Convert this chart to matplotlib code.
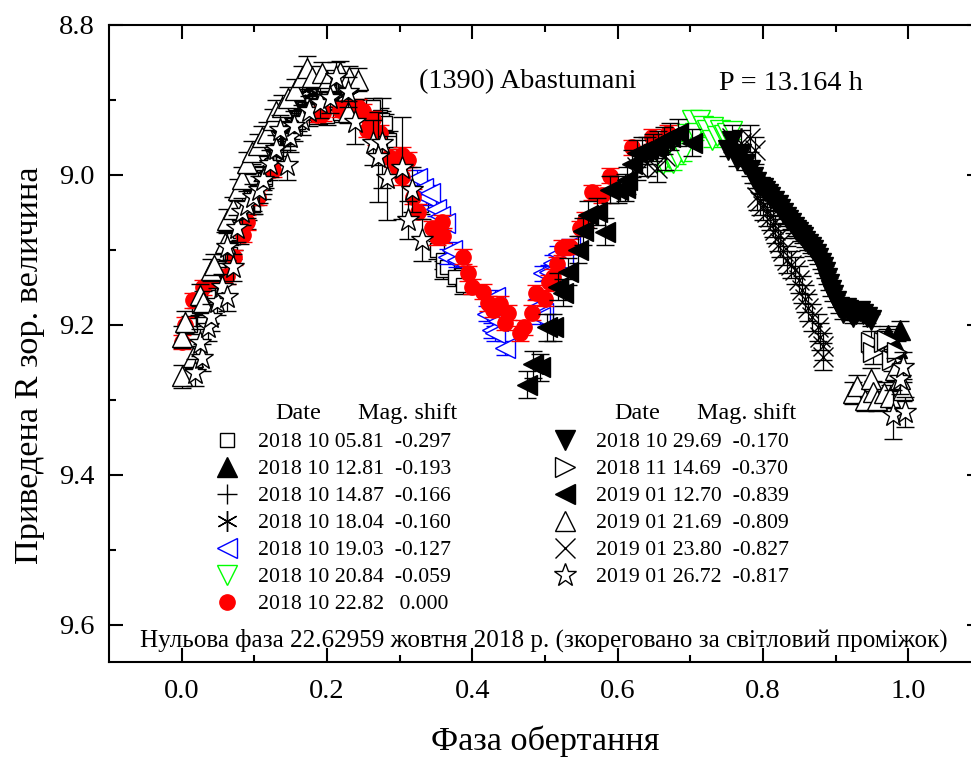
import matplotlib
matplotlib.use('Agg')
import matplotlib.pyplot as plt

plt.rcParams['font.family'] = ['Liberation Serif', 'DejaVu Serif']

# phase / reduced magnitude / error, one block per night
sq_x = [0.012, 0.024, 0.036, 0.050, 0.066, 0.080, 0.098, 0.114, 0.130, 0.146, 0.160, 0.172,
        0.187, 0.200, 0.218, 0.240, 0.263, 0.273, 0.275, 0.280, 0.286, 0.300, 0.330, 0.351, 0.360, 0.360, 0.365, 0.376, 0.387]
sq_y = [9.200, 9.175, 9.160, 9.135, 9.105, 9.075, 9.040, 9.005, 8.975, 8.950, 8.930, 8.915,
        8.920, 8.921, 8.917, 8.912, 8.909, 8.923, 8.927, 8.931, 8.953, 8.985, 9.040, 9.100, 9.113, 9.127, 9.123, 9.136, 9.147]

fup_x = [0.972, 0.985, 0.989]
fup_y = [9.213, 9.231, 9.207]

plus_x = [0.020, 0.035, 0.050, 0.060, 0.070, 0.080, 0.090, 0.100, 0.110, 0.120, 0.130, 0.140, 0.150, 0.160, 0.170]
plus_y = [9.190, 9.165, 9.130, 9.115, 9.100, 9.080, 9.060, 9.040, 9.020, 8.995, 8.975, 8.955, 8.940, 8.920, 8.905]

ast_x = [0.100, 0.112, 0.125, 0.138, 0.150, 0.158, 0.165, 0.175, 0.180, 0.185, 0.192, 0.200, 0.208, 0.215, 0.222, 0.230]
ast_y = [9.025, 9.000, 8.972, 8.950, 8.930, 8.912, 8.900, 8.885, 8.892, 8.880, 8.898, 8.885, 8.902, 8.890, 8.905, 8.895]

blue_x = [0.324, 0.332, 0.336, 0.342, 0.350, 0.356, 0.362, 0.366, 0.372, 0.379, 0.427, 0.431, 0.445, 0.431, 0.497, 0.511, 0.489, 0.497, 0.493,
          0.420, 0.436, 0.505, 0.518, 0.525, 0.535]
blue_y = [9.004, 9.017, 9.030, 9.024, 9.045, 9.055, 9.064, 9.109, 9.100, 9.113, 9.207, 9.211, 9.231, 9.163, 9.131, 9.117, 9.176, 9.184, 9.189,
          9.185, 9.195, 9.130, 9.105, 9.115, 9.095]

green_x = [0.662, 0.670, 0.676, 0.682, 0.690, 0.696, 0.702, 0.707, 0.713, 0.718, 0.723, 0.730, 0.731, 0.737, 0.741, 0.746, 0.751, 0.758]
green_y = [8.985, 8.978, 8.984, 8.976, 8.971, 8.945, 8.927, 8.944, 8.927, 8.935, 8.940, 8.953, 8.936, 8.948, 8.940, 8.947, 8.944, 8.942]

red_x = [0.000, 0.004, 0.015, 0.030, 0.045, 0.062, 0.072, 0.084, 0.090, 0.105, 0.125, 0.186, 0.195, 0.218, 0.230, 0.242, 0.250, 0.255, 0.259, 0.263, 0.268,
         0.273, 0.286, 0.291, 0.297, 0.303, 0.311, 0.303, 0.318, 0.325, 0.344, 0.358, 0.360, 0.351, 0.387, 0.394, 0.399, 0.415, 0.421, 0.428,
         0.438, 0.449, 0.445, 0.466, 0.471, 0.482, 0.488, 0.500, 0.506, 0.511, 0.517, 0.523, 0.534, 0.548, 0.555, 0.565, 0.579, 0.590, 0.620, 0.647, 0.669]
red_y = [9.223, 9.200, 9.167, 9.150, 9.140, 9.135, 9.110, 9.080, 9.063, 9.030, 8.993, 8.920, 8.918, 8.913, 8.910, 8.909, 8.915, 8.940, 8.931, 8.925, 8.950,
         8.944, 8.976, 8.980, 8.990, 8.973, 8.980, 9.003, 9.029, 9.049, 9.071, 9.063, 9.081, 9.083, 9.109, 9.131, 9.149, 9.156, 9.171, 9.180,
         9.172, 9.184, 9.197, 9.211, 9.203, 9.184, 9.157, 9.165, 9.143, 9.136, 9.119, 9.097, 9.096, 9.071, 9.060, 9.023, 9.027, 9.001, 8.963, 8.949, 8.944]

fdown_x = [0.752, 0.758, 0.764, 0.770, 0.775, 0.782, 0.786, 0.790, 0.796, 0.800, 0.803, 0.807, 0.810, 0.815, 0.820, 0.824, 0.828, 0.832, 0.835, 0.838, 0.842,
           0.845, 0.848, 0.852, 0.855, 0.858, 0.862, 0.866, 0.869, 0.873, 0.876, 0.880, 0.883, 0.886, 0.888, 0.891, 0.893, 0.897, 0.900, 0.905, 0.910,
           0.914, 0.917, 0.921, 0.924, 0.928, 0.933, 0.938, 0.943, 0.948]
fdown_y = [8.967, 8.955, 8.980, 8.972, 8.985, 8.993, 9.003, 9.010, 9.016, 9.018, 9.022, 9.026, 9.029, 9.035, 9.040, 9.046, 9.051, 9.056, 9.060, 9.064, 9.069,
           9.073, 9.076, 9.080, 9.083, 9.088, 9.092, 9.096, 9.100, 9.106, 9.111, 9.117, 9.123, 9.130, 9.138, 9.146, 9.153, 9.160, 9.168, 9.176, 9.184,
           9.178, 9.180, 9.186, 9.189, 9.185, 9.182, 9.186, 9.189, 9.193]

right_x = [0.948, 0.952, 0.966, 0.971, 0.978, 0.985]
right_y = [9.223, 9.237, 9.223, 9.220, 9.247, 9.237]

fleft_x = [0.475, 0.483, 0.493, 0.503, 0.511, 0.518, 0.525, 0.532, 0.545, 0.552, 0.559, 0.572, 0.583, 0.590, 0.600, 0.610, 0.613, 0.620, 0.627, 0.634, 0.640,
           0.648, 0.656, 0.664, 0.672, 0.683, 0.702]
fleft_y = [9.280, 9.253, 9.257, 9.203, 9.203, 9.149, 9.157, 9.129, 9.100, 9.075, 9.053, 9.049, 9.076, 9.020, 9.020, 9.017, 9.007, 8.985, 8.971, 8.968, 8.967,
           8.963, 8.960, 8.954, 8.949, 8.944, 8.957]

tri_x = [0.000, 0.015, 0.000, 0.004, 0.025, 0.030, 0.041, 0.045, 0.059, 0.062, 0.070, 0.077, 0.083, 0.090, 0.097, 0.105, 0.110, 0.118, 0.125, 0.130, 0.138, 0.147,
         0.156, 0.165, 0.172, 0.180, 0.193, 0.200, 0.218, 0.230, 0.242, 0.229, 0.924, 0.930, 0.941, 0.948, 0.952, 0.957, 0.966, 0.975, 0.982, 0.989, 0.993]
tri_y = [9.269, 9.243, 9.216, 9.196, 9.160, 9.170, 9.127, 9.120, 9.091, 9.060, 9.045, 9.020, 9.005, 8.984, 8.970, 8.960, 8.950, 8.944, 8.927, 8.915, 8.909, 8.898,
         8.887, 8.870, 8.857, 8.870, 8.864, 8.875, 8.863, 8.870, 8.873, 8.916, 9.291, 9.282, 9.300, 9.273, 9.290, 9.300, 9.291, 9.296, 9.260, 9.273, 9.287]

cross_x = [0.627, 0.640, 0.654, 0.665, 0.758, 0.770, 0.782, 0.789, 0.792, 0.796, 0.800, 0.805, 0.810, 0.814, 0.817, 0.820, 0.824, 0.828, 0.833, 0.838, 0.844, 0.849,
           0.854, 0.858, 0.862, 0.868, 0.875, 0.879, 0.882, 0.883]
cross_y = [8.989, 8.984, 8.991, 8.975, 8.951, 8.958, 8.951, 8.967, 9.029, 9.035, 9.042, 9.050, 9.056, 9.065, 9.073, 9.083, 9.091, 9.102, 9.113, 9.120, 9.127, 9.140,
           9.153, 9.165, 9.177, 9.190, 9.203, 9.216, 9.229, 9.243]

star_x = [0.018, 0.028, 0.025, 0.036, 0.040, 0.048, 0.055, 0.062, 0.070, 0.063, 0.076, 0.083, 0.090, 0.098, 0.107, 0.112, 0.122, 0.130, 0.145, 0.149, 0.165, 0.135,
          0.155, 0.175, 0.190, 0.204, 0.213, 0.229, 0.238, 0.263, 0.275, 0.270, 0.282, 0.303, 0.317, 0.311, 0.331, 0.979, 0.989, 0.993, 0.996]
star_y = [9.264, 9.244, 9.224, 9.203, 9.190, 9.169, 9.150, 9.163, 9.123, 9.096, 9.071, 9.049, 9.040, 9.030, 9.020, 9.007, 8.985, 8.965, 8.987, 8.949, 8.927, 8.940,
          8.935, 8.915, 8.904, 8.897, 8.869, 8.889, 8.929, 8.957, 8.957, 8.976, 9.004, 8.991, 9.020, 9.060, 9.087, 9.320, 9.273, 9.256, 9.316]
star_err = [0.018, 0.018, 0.018, 0.018, 0.018, 0.018, 0.018, 0.018, 0.018, 0.018, 0.018, 0.018, 0.018, 0.018, 0.018, 0.018, 0.018, 0.018, 0.020, 0.020, 0.020, 0.020,
            0.020, 0.020, 0.020, 0.020, 0.020, 0.020, 0.030, 0.030, 0.060, 0.060, 0.056, 0.068, 0.030, 0.025, 0.028, 0.033, 0.020, 0.020, 0.020]

dates = ['2018 10 05.81', '2018 10 12.81', '2018 10 14.87', '2018 10 18.04', '2018 10 19.03', '2018 10 20.84', '2018 10 22.82',
         '2018 10 29.69', '2018 11 14.69', '2019 01 12.70', '2019 01 21.69', '2019 01 23.80', '2019 01 26.72']
shifts = ['-0.297', '-0.193', '-0.166', '-0.160', '-0.127', '-0.059', '\u20090.000',
          '-0.170', '-0.370', '-0.839', '-0.809', '-0.827', '-0.817']
errs = [0.012, 0.012, 0.012, 0.012, 0.010, 0.010, 0.010, 0.008, 0.015, 0.018, 0.015, 0.018, star_err]

xs = [sq_x, fup_x, plus_x, ast_x, blue_x, green_x, red_x, fdown_x, right_x, fleft_x, tri_x, cross_x, star_x]
ys = [sq_y, fup_y, plus_y, ast_y, blue_y, green_y, red_y, fdown_y, right_y, fleft_y, tri_y, cross_y, star_y]

markers = ['s', '^', '+', (6, 2, 0), '<', 'v', 'o', 'v', '>', '<', '^', 'x', '*']
sizes = [10, 15, 15, 15, 15, 15, 11, 15, 15, 15, 15, 14, 17]
edge = ['k', 'k', 'k', 'k', 'b', 'lime', 'r', 'k', 'k', 'k', 'k', 'k', 'k']
face = ['w', 'k', 'none', 'none', 'w', 'w', 'r', 'k', 'w', 'k', 'w', 'none', 'w']

fig = plt.figure(figsize=(9.71, 7.58), dpi=100)
# right side of the frame falls outside the image, only its ticks show
ax = fig.add_axes([109 / 971, 1 - 662 / 758, (981 - 109) / 971, (662 - 25) / 758])

handles = []
for i in range(len(xs)):
    c = ax.errorbar(xs[i], ys[i], yerr=errs[i], marker=markers[i], linestyle='none', ms=sizes[i], mfc=face[i], mec=edge[i], mew=1.0,
                    ecolor=edge[i], elinewidth=0.9, capsize=6.5, capthick=0.9, zorder=3 + i)
    # legend shows only the marker, without the bar
    handles.append(c[0])
labels = [d + '  ' + s for d, s in zip(dates, shifts)]

ax.set_xlim(-0.1, 1.1)
ax.set_ylim(9.65, 8.8)
ax.set_xticks([0.0, 0.2, 0.4, 0.6, 0.8, 1.0])
ax.set_xticks([0.1, 0.3, 0.5, 0.7, 0.9], minor=True)
ax.set_yticks([8.8, 9.0, 9.2, 9.4, 9.6])
ax.set_yticks([8.9, 9.1, 9.3, 9.5], minor=True)
ax.xaxis.set_major_formatter(plt.FormatStrFormatter('%.1f'))
ax.yaxis.set_major_formatter(plt.FormatStrFormatter('%.1f'))
ax.tick_params(which='major', direction='in', length=10, width=1.5, top=True, right=True, labelsize=20.5)
ax.tick_params(which='minor', direction='in', length=5, width=1.5, top=True, right=True)
ax.tick_params(axis='x', which='major', pad=12)
ax.tick_params(axis='y', which='major', pad=10)
for s in ax.spines.values():
    s.set_linewidth(1.5)

ax.set_xlabel('Фаза обертання', fontsize=24.7, labelpad=15.5)
ax.set_ylabel('Приведена R зор. величина', fontsize=24.7, labelpad=10, y=0.466)

ax.text(0.355, 0.892, '(1390) Abastumani', transform=ax.transAxes, ha='left', va='bottom', fontsize=20.3)
ax.text(0.700, 0.889, 'P = 13.164 h', transform=ax.transAxes, ha='left', va='bottom', fontsize=20.3)
ax.text(0.0355, 0.015, 'Нульова фаза 22.62959 жовтня 2018 р. (зкореговано за світловий проміжок)', transform=ax.transAxes,
        ha='left', va='bottom', fontsize=18.1)

# column headers
ax.text(0.1905, 0.374, 'Date', transform=ax.transAxes, ha='left', va='bottom', fontsize=17.4)
ax.text(0.2855, 0.374, 'Mag. shift', transform=ax.transAxes, ha='left', va='bottom', fontsize=17.4)
ax.text(0.5790, 0.374, 'Date', transform=ax.transAxes, ha='left', va='bottom', fontsize=17.4)
ax.text(0.6745, 0.374, 'Mag. shift', transform=ax.transAxes, ha='left', va='bottom', fontsize=17.4)

leg_opts = dict(frameon=False, fontsize=15.7, labelspacing=0.31, handletextpad=0.92, handlelength=1.0, borderpad=0, borderaxespad=0)
leg1 = ax.legend(handles[:7], labels[:7], loc='upper left', bbox_to_anchor=(0.1227, 0.361), **leg_opts)
ax.add_artist(leg1)
leg2 = ax.legend(handles[7:], labels[7:], loc='upper left', bbox_to_anchor=(0.5103, 0.361), **leg_opts)

fig.savefig('out.png', dpi=100)
